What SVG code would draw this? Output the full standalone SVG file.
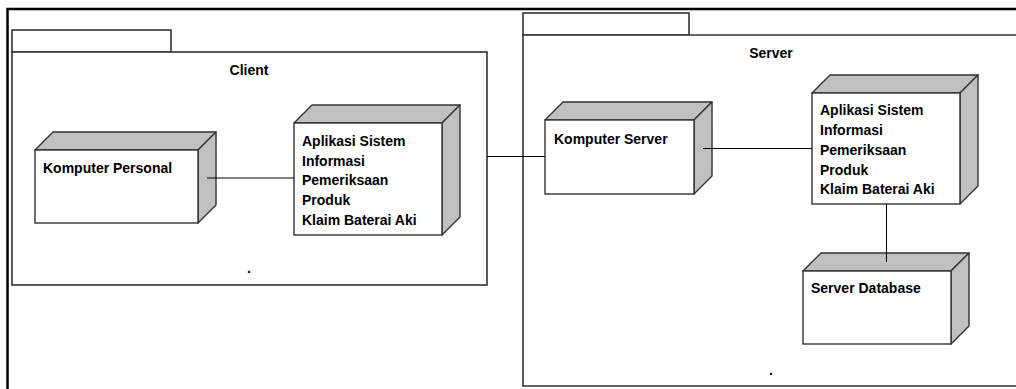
<svg xmlns="http://www.w3.org/2000/svg" width="1016" height="389" viewBox="0 0 1016 389">
<style>
.frame{fill:none;stroke:#000;stroke-width:2.5}
.pkg{fill:#fff;stroke:#333;stroke-width:1.6}
.front{fill:#fff;stroke:#333;stroke-width:1.4}
.face{fill:#c0c0c0;stroke:#333;stroke-width:1.4;stroke-linejoin:round}
.conn{fill:none;stroke:#000;stroke-width:1}
text{font-family:"Liberation Sans",Arial,sans-serif;font-weight:bold;font-size:14px;fill:#000}
.c{text-anchor:middle}
</style>
<rect width="1016" height="389" fill="#fff"/>
<path class="frame" d="M7.5 389 V9 H1016"/>
<g id="client">
  <rect class="pkg" x="12" y="30" width="159" height="22"/>
  <rect class="pkg" x="12" y="52" width="475" height="233"/>
  <text class="c" x="249" y="75">Client</text>
  <text class="c" x="249" y="273">.</text>
</g>
<g id="server">
  <rect class="pkg" x="523" y="13" width="166" height="22"/>
  <path class="pkg" d="M1017 35 H523 V386 H1017"/>
  <text class="c" x="771" y="58">Server</text>
  <text class="c" x="771" y="375">.</text>
</g>
<g id="komputer-personal">
  <polygon class="face" points="35,150 53,132 216,132 198,150"/>
  <polygon class="face" points="198,150 216,132 216,205 198,223"/>
  <rect class="front" x="35" y="150" width="163" height="73"/>
  <text x="43" y="173">Komputer Personal</text>
</g>
<g id="aplikasi-client">
  <polygon class="face" points="294,123 312,105 460,105 442,123"/>
  <polygon class="face" points="442,123 460,105 460,217 442,235"/>
  <rect class="front" x="294" y="123" width="148" height="112"/>
  <text x="302" y="146">Aplikasi Sistem</text>
  <text x="302" y="166">Informasi</text>
  <text x="302" y="185">Pemeriksaan</text>
  <text x="302" y="205">Produk</text>
  <text x="302" y="225">Klaim Baterai Aki</text>
</g>
<g id="komputer-server">
  <polygon class="face" points="545,120 563,102 712,102 694,120"/>
  <polygon class="face" points="694,120 712,102 712,176 694,194"/>
  <rect class="front" x="545" y="120" width="149" height="74"/>
  <text x="554" y="144">Komputer Server</text>
</g>
<g id="aplikasi-server">
  <polygon class="face" points="812,93 830,75 978,75 960,93"/>
  <polygon class="face" points="960,93 978,75 978,186 960,204"/>
  <rect class="front" x="812" y="93" width="148" height="111"/>
  <text x="820" y="115">Aplikasi Sistem</text>
  <text x="820" y="135">Informasi</text>
  <text x="820" y="155">Pemeriksaan</text>
  <text x="820" y="175">Produk</text>
  <text x="820" y="194">Klaim Baterai Aki</text>
</g>
<g id="server-database">
  <polygon class="face" points="803,271 821,253 969,253 951,271"/>
  <polygon class="face" points="951,271 969,253 969,326 951,344"/>
  <rect class="front" x="803" y="271" width="148" height="73"/>
  <text x="811" y="293">Server Database</text>
</g>
<g id="connectors">
  <line class="conn" x1="207" y1="178" x2="294" y2="178"/>
  <line class="conn" x1="487" y1="156.5" x2="545" y2="156.5"/>
  <line class="conn" x1="703" y1="148.5" x2="812" y2="148.5"/>
  <line class="conn" x1="886.5" y1="204" x2="886.5" y2="262"/>
</g>
</svg>
